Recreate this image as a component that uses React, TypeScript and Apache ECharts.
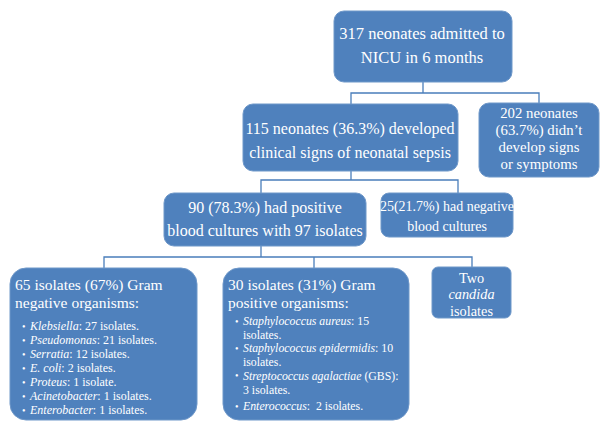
import React, { useEffect, useRef } from "react";
import * as echarts from "echarts";

// Flowchart content
const box1Lines = ["317 neonates admitted to", "NICU in 6 months"];
const box2Lines = ["115 neonates (36.3%) developed", "clinical signs of neonatal sepsis"];
const box3Lines = ["202 neonates", "(63.7%) didn\u2019t", "develop signs", "or symptoms"];
const box4Lines = ["90 (78.3%) had positive", "blood cultures with 97 isolates"];
const box5Lines = ["25(21.7%) had negative", "blood cultures"];
const box6Title = ["65 isolates (67%) Gram", "negative organisms:"];
const box6Bullets = [
  "{i|Klebsiella}: 27 isolates.",
  "{i|Pseudomonas}: 21 isolates.",
  "{i|Serratia}: 12 isolates.",
  "{i|E. coli}: 2 isolates.",
  "{i|Proteus}: 1 isolate.",
  "{i|Acinetobacter}: 1 isolates.",
  "{i|Enterobacter}: 1 isolates.",
];
const box7Title = ["30 isolates (31%) Gram", "positive organisms:"];
const box7Bullets = [
  ["{i|Staphylococcus aureus}: 15", "isolates."],
  ["{i|Staphylococcus epidermidis}: 10", "isolates."],
  ["{i|Streptococcus agalactiae} (GBS):", "3 isolates."],
  ["{i|Enterococcus}:  2 isolates."],
];
const box8Lines = ["Two", "{i|candida}", "isolates"];

const FILL = "#4F81BD";
const LINE = "#4A7EBB";
const FONT = "'Liberation Serif', 'Times New Roman', serif";

function rect(x: number, y: number, w: number, h: number, r: number) {
  return {
    type: "rect",
    shape: { x, y, width: w, height: h, r },
    style: { fill: FILL, stroke: "#6f98c9", lineWidth: 1 },
  };
}

function text(str: string, x: number, y: number, size: number, align = "center") {
  return {
    type: "text",
    x,
    y,
    style: {
      text: str,
      fill: "#ffffff",
      fontFamily: FONT,
      fontSize: size,
      lineHeight: size,
      align,
      verticalAlign: "middle",
      rich: {
        i: { fontStyle: "italic", fill: "#ffffff", fontFamily: FONT, fontSize: size, lineHeight: size },
      },
    },
  };
}

function line(points: number[][]) {
  return {
    type: "polyline",
    shape: { points },
    style: { stroke: LINE, lineWidth: 1.3, fill: null },
  };
}

export default function App() {
  const ref = useRef<HTMLDivElement>(null);
  useEffect(() => {
    if (!ref.current) return;
    const chart = echarts.init(ref.current, null, { renderer: "svg" });
    const els: any[] = [];
    // connectors
    els.push(line([[423, 82], [423, 93]]));
    els.push(line([[351, 104], [351, 93], [539, 93], [539, 103]]));
    els.push(line([[351, 171], [351, 180]]));
    els.push(line([[261, 193], [261, 180], [458, 180], [458, 193]]));
    els.push(line([[261, 246], [261, 257]]));
    els.push(line([[104, 268], [104, 257], [472, 257], [472, 267]]));
    els.push(line([[314, 257], [314, 268]]));

    // boxes
    els.push(rect(334, 11, 178, 71, 10));
    box1Lines.forEach((s, i) => els.push(text(s, 422, 33 + i * 24, 16.5)));

    els.push(rect(243, 104, 215, 67, 10));
    box2Lines.forEach((s, i) => els.push(text(s, 350, 128 + i * 24, 16)));

    els.push(rect(479, 103, 120, 74, 10));
    box3Lines.forEach((s, i) => els.push(text(s, 539, 112.5 + i * 17.2, 14.8)));

    els.push(rect(164, 193, 202, 53, 10));
    box4Lines.forEach((s, i) => els.push(text(s, 265, 207 + i * 23, 16)));

    els.push(rect(381, 193, 132, 44, 8));
    box5Lines.forEach((s, i) => els.push(text(s, 447, 206 + i * 20, 14)));

    els.push(rect(10, 268, 187, 152, 16));
    box6Title.forEach((s, i) => els.push(text(s, 15, 284 + i * 18, 15.5, "left")));
    box6Bullets.forEach((s, i) => {
      els.push(text("\u2022", 22, 326 + i * 14, 10, "left"));
      els.push(text(s, 30, 326 + i * 14, 12, "left"));
    });

    els.push(rect(223, 268, 186, 152, 16));
    box7Title.forEach((s, i) => els.push(text(s, 228, 284 + i * 18, 15.5, "left")));
    let yy = 321;
    box7Bullets.forEach((b, bi) => {
      if (bi === 3) yy += 3;
      els.push(text("\u2022", 235, yy, 10, "left"));
      b.forEach((s) => {
        els.push(text(s, 243, yy, 11.8, "left"));
        yy += 13.7;
      });
    });

    els.push(rect(432, 267, 79, 51, 6));
    box8Lines.forEach((s, i) => els.push(text(s, 471.5, 277.5 + i * 16.5, 14.3)));

    chart.setOption({
      animation: false,
      backgroundColor: "#ffffff",
      graphic: { elements: els },
    });
    return () => chart.dispose();
  }, []);
  return <div ref={ref} style={{ width: 611, height: 431, position: "absolute", left: 0, top: 0 }} />;
}
